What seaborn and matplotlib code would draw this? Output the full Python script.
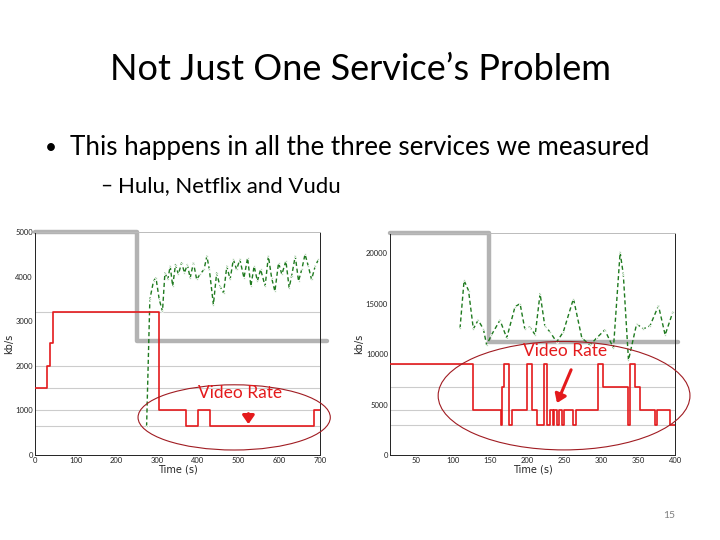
import numpy as np
import pandas as pd
import seaborn as sns
import matplotlib.pyplot as plt
from matplotlib.patches import Ellipse

sns.set_style("white")
plt.rcParams['font.family'] = ['Lato', 'DejaVu Sans']
plt.rcParams['text.color'] = "black"

# ------------ Data ------------

TITLE = "Not Just One Service\u2019s Problem"
BULLET = "This happens in all the three services we measured"
SUB_BULLET = "Hulu, Netflix and Vudu"
PAGE_NO = "15"

# Left chart (Hulu)
left_rate_t = [0, 30, 38, 45, 305, 370, 401, 430, 684, 700]
left_rate_v = [1500, 2000, 2500, 3200, 1000, 650, 1000, 650, 1000, 1000]
left_cap_t = [0, 250, 250, 716]
left_cap_v = [5000, 5000, 2550, 2550]
left_tput_t = [274, 282, 291, 297, 305, 313, 319, 326, 332, 338, 345, 352, 360,
               367, 374, 381, 389, 397, 405, 415, 422, 428, 438, 446, 454, 463,
               471, 479, 487, 495, 503, 513, 522, 530, 538, 546, 554, 565, 573,
               581, 589, 598, 606, 616, 624, 630, 639, 647, 655, 663, 671, 679,
               688, 696]
left_tput_v = [640, 3490, 3900, 3970, 3490, 3220, 4085, 3935, 4235, 3785, 4270,
               4050, 4310, 4085, 4270, 3970, 4310, 3935, 4050, 4160, 4460, 4160,
               3370, 4085, 3785, 3635, 4235, 3935, 4385, 4160, 4385, 3970, 4420,
               3785, 4235, 3900, 4160, 3785, 4460, 3970, 3670, 4310, 4050, 4350,
               3750, 4010, 4460, 3900, 4160, 4500, 4235, 3935, 4235, 4385]
left_levels = [3200, 2000, 1500, 1000, 650]
left_xticks = [0, 100, 200, 300, 400, 500, 600, 700]
left_yticks = [0, 1000, 2000, 3000, 4000, 5000]

# Right chart (Vudu)
right_rate_t = [15, 127.5, 164.4, 166.7, 169.4, 176.2, 179.3, 200.5, 206.3, 213,
                223, 227.5, 231, 234.7, 236.5, 240, 243.7, 247.3, 250, 262.6,
                266, 296, 303, 337, 339, 346, 352.7, 373, 375, 393, 400]
right_rate_v = [9000, 4500, 3000, 6700, 9000, 3000, 4500, 9000, 4500, 3000,
                9000, 3000, 4500, 3000, 4500, 3000, 4500, 3000, 4500, 3000,
                4500, 9000, 6700, 3000, 9000, 6700, 4500, 3000, 4500, 3000, 3000]
right_cap_t = [15, 148, 148, 404]
right_cap_v = [22000, 22000, 11250, 11250]
right_tput_t = [109.5, 115, 121, 127.5, 134, 141, 145.5, 152, 163.5, 172.6,
                183.8, 190.6, 197, 204, 211, 217.6, 224, 231, 240, 249, 262.7,
                274, 285, 294, 305, 316.7, 325.7, 330, 337, 348, 357, 366,
                377.5, 386.5, 397]
right_tput_v = [12540, 17300, 16300, 12500, 13370, 12500, 10900, 11900, 13370,
                11600, 14700, 15000, 12500, 12700, 11900, 16000, 12800, 12200,
                11200, 12200, 15500, 11600, 10900, 11600, 12400, 10600, 20100,
                17900, 9400, 13000, 12500, 12800, 14800, 11900, 14200]
right_levels = [9000, 6700, 4500, 3000]
right_xticks = [50, 100, 150, 200, 250, 300, 350, 400]
right_yticks = [0, 5000, 10000, 15000, 20000]

RED = "#e41a1c"
GREEN = "#1f7a1f"
GRAY = "#b3b3b3"
DARK_RED = "#a01c22"

# ------------ Plot Functions ------------


def draw_panel(ax, rate_t, rate_v, cap_t, cap_v, tput_t, tput_v, levels,
               xlim, ylim, xticks, yticks):
    for lv in levels:
        ax.axhline(lv, color="#cccccc", lw=0.8, zorder=0)
    sns.lineplot(x=cap_t, y=cap_v, ax=ax, color=GRAY, lw=3.2,
                 estimator=None, sort=False, clip_on=False, zorder=1)
    sns.lineplot(x=tput_t, y=tput_v, ax=ax, color=GREEN, lw=1.0,
                 linestyle=(0, (3, 2)), marker=".", markersize=2.5,
                 estimator=None, sort=False, zorder=2)
    sns.lineplot(x=rate_t, y=rate_v, ax=ax, color=RED, lw=1.2,
                 drawstyle="steps-post", estimator=None, sort=False, zorder=3)
    ax.set_xlim(*xlim)
    ax.set_ylim(*ylim)
    ax.set_xticks(xticks)
    ax.set_yticks(yticks)
    ax.tick_params(labelsize=5.5, length=2, pad=1.5, direction="in",
                   colors="#222222")
    ax.set_xlabel("Time (s)", fontsize=7, labelpad=0, family="DejaVu Sans")
    ax.set_ylabel("kb/s", fontsize=7, labelpad=1, family="DejaVu Sans")
    for name, sp in ax.spines.items():
        sp.set_linewidth(0.7)
        sp.set_color("#bbbbbb" if name == "top" else "#222222")


fig = plt.figure(figsize=(7.2, 5.4), dpi=100)

ax1 = fig.add_axes([0.0486, 0.1574, 0.396, 0.413])
draw_panel(ax1, left_rate_t, left_rate_v, left_cap_t, left_cap_v,
           left_tput_t, left_tput_v, left_levels, (0, 700), (0, 5000),
           left_xticks, left_yticks)
ax1.add_patch(Ellipse((489, 843), 472, 1462, fill=False, ec=DARK_RED,
                      lw=0.8, clip_on=False, zorder=5))
ax1.text(503, 1390, "Video Rate", color=RED, fontsize=12.5, ha="center",
         va="center", zorder=6)
ax1.annotate("", xy=(524, 630), xytext=(524, 990),
             arrowprops=dict(arrowstyle="-|>,head_width=0.35,head_length=0.5",
                             color=RED, lw=2.2), zorder=6)

ax2 = fig.add_axes([0.5417, 0.1574, 0.396, 0.411])
draw_panel(ax2, right_rate_t, right_rate_v, right_cap_t, right_cap_v,
           right_tput_t, right_tput_v, right_levels, (15, 400), (0, 22000),
           right_xticks, right_yticks)
ax2.add_patch(Ellipse((250, 5880), 340, 10750, fill=False, ec=DARK_RED,
                      lw=0.8, clip_on=False, zorder=5))
ax2.text(251, 10260, "Video Rate", color=RED, fontsize=12.5, ha="center",
         va="center", zorder=6)
ax2.annotate("", xy=(239, 4900), xytext=(261, 8700),
             arrowprops=dict(arrowstyle="-|>,head_width=0.35,head_length=0.5",
                             color=RED, lw=2.2), zorder=6)

# Slide text
fig.text(0.5, 0.872, TITLE, ha="center", va="center", fontsize=26)
fig.text(0.0625, 0.726, "\u2022", ha="left", va="center", fontsize=15)
fig.text(0.097, 0.726, BULLET, ha="left", va="center", fontsize=18.7)
fig.text(0.139, 0.656, "\u2013", ha="left", va="center", fontsize=15)
fig.text(0.164, 0.656, SUB_BULLET, ha="left", va="center", fontsize=15.9)
fig.text(0.93, 0.046, PAGE_NO, ha="center", va="center", fontsize=7.5,
         color="#808080")

fig.savefig("out.png", dpi=100)
